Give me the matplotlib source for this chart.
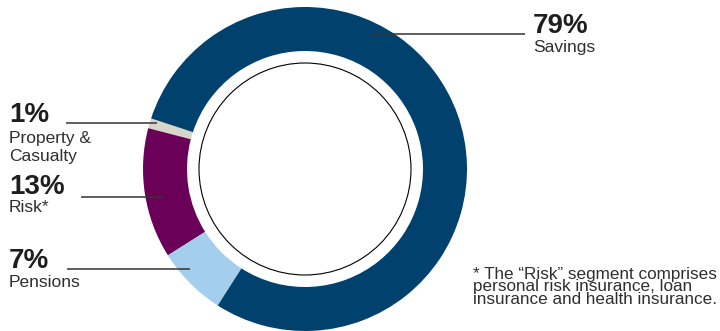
import matplotlib
matplotlib.use("Agg")
import matplotlib.pyplot as plt
from matplotlib.patches import Circle
from matplotlib.font_manager import FontProperties

plt.rcParams['font.family'] = ['Liberation Sans', 'DejaVu Sans']

# Data
categories = ["Property &\nCasualty", "Risk*", "Pensions", "Savings"]
shares = [1, 13, 7, 79]
colors = ["#D8D6C9", "#6B0058", "#A3CEEE", "#00416E"]
footnote = ["* The \u201cRisk\u201d segment comprises",
            "personal risk insurance, loan",
            "insurance and health insurance."]

W, H = 720, 331
fig = plt.figure(figsize=(7.2, 3.31), dpi=100)
ax = fig.add_axes([0, 0, 1, 1])

cx, cy = 305, H - 169
R, ring_w = 162, 44

ax.pie(shares, colors=colors, radius=R, center=(cx, cy), startangle=161.8,
       counterclock=True, wedgeprops=dict(width=ring_w, linewidth=0))
ax.add_patch(Circle((cx, cy), 106, fill=False, ec="black", lw=0.8))

ax.set_xlim(0, W)
ax.set_ylim(0, H)
ax.set_aspect('equal')
ax.axis('off')

txt_col = "#2f2f2f"
line_col = "#333333"

# label layout: (pct x, pct baseline y, name baselines, line y, line x0, line x1)
layout = {
    "Property &\nCasualty": (9, 121.5, [143.5, 161.5], 122.5, 66, 157),
    "Risk*": (9, 194.5, [211.7], 196.5, 81, 163),
    "Pensions": (9, 268.3, [286.7], 268.5, 67, 190),
    "Savings": (533, 33.3, [52], 33.5, 372, 525),
}

for cat, val in zip(categories, shares):
    px, py, nys, ly, lx0, lx1 = layout[cat]
    ax.text(px, H - py, f"{val}%", fontsize=20, fontweight='bold',
            color="#1e1e1e", va='baseline', ha='left')
    for line, ny in zip(cat.split("\n"), nys):
        ax.text(px, H - ny, line, fontsize=12.5, color=txt_col,
                va='baseline', ha='left')
    ax.plot([lx0, lx1], [H - ly, H - ly], color=line_col, lw=1.1,
            solid_capstyle='butt')

# footnote: single text block, baselines at 278.5 px with 12.7 px spacing
fn_size = 12.3
fp = FontProperties(family=['Liberation Sans', 'DejaVu Sans'], size=fn_size)
renderer = fig.canvas.get_renderer()
_, lp_h, lp_d = renderer.get_text_width_height_descent("lp", fp, ismath=False)
_, h1, d1 = renderer.get_text_width_height_descent(footnote[0], fp, ismath=False)
gap = 12.7
ls = (gap - lp_d) / (lp_h - lp_d)
first_base = 278.5
top = first_base - (max(h1, lp_h) - max(d1, lp_d))
ax.text(473, H - top, "\n".join(footnote), fontproperties=fp, color=txt_col,
        va='top', ha='left', linespacing=ls)

fig.savefig("out.png", dpi=100)
